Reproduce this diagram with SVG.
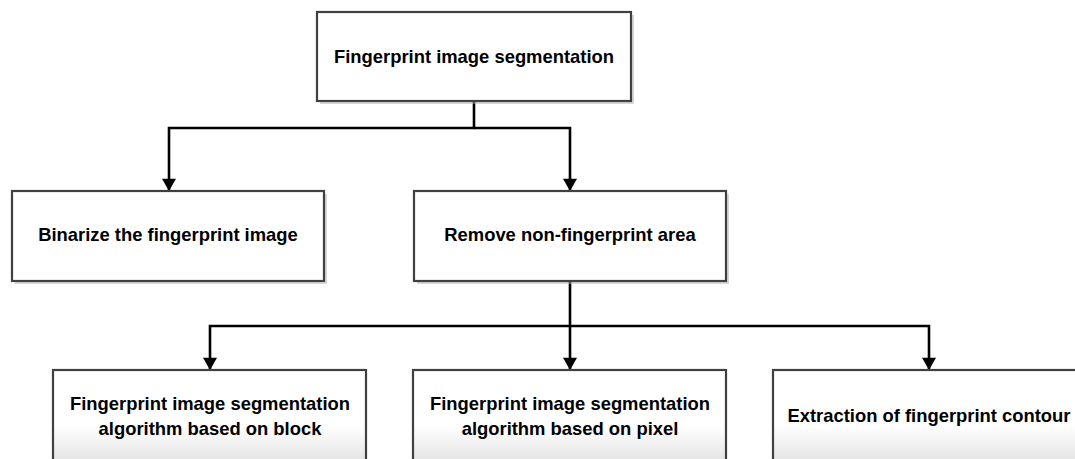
<svg xmlns="http://www.w3.org/2000/svg" width="1075" height="459" viewBox="0 0 1075 459">
<defs>
<style>
.box{fill:#ffffff;stroke:#404040;stroke-width:2.2}
.gbox{fill:url(#fade);stroke:#404040;stroke-width:2.2}
.shadow{fill:#b0b0b0;opacity:0.5}
.lbl{font-family:"Liberation Sans",Arial,sans-serif;font-weight:bold;font-size:18.4px;fill:#000;text-anchor:middle}
.conn{fill:none;stroke:#000;stroke-width:2.6}
</style>
<linearGradient id="fade" x1="0" y1="0" x2="0" y2="1">
<stop offset="0.6" stop-color="#ffffff"/>
<stop offset="1" stop-color="#e4e4e4"/>
</linearGradient>
<marker id="arr" markerUnits="userSpaceOnUse" markerWidth="16" markerHeight="14" refX="14" refY="8" orient="auto" viewBox="0 0 16 16">
<path d="M0,0 L14,8 L0,16 Z" fill="#000"/>
</marker>
</defs>
<g id="connectors">
<path class="conn" d="M474 101 V128 H169 V191" marker-end="url(#arr)"/>
<path class="conn" d="M474 128 H570 V191" marker-end="url(#arr)"/>
<path class="conn" d="M570 281 V326 H210 V370" marker-end="url(#arr)"/>
<path class="conn" d="M570 326 V370" marker-end="url(#arr)"/>
<path class="conn" d="M570 326 H929 V370" marker-end="url(#arr)"/>
</g>
<g id="node-top">
<rect class="shadow" x="320" y="15" width="314" height="89"/>
<rect class="box" x="317" y="12" width="314" height="89"/>
<text class="lbl" x="474" y="63">Fingerprint image segmentation</text>
</g>
<g id="node-binarize">
<rect class="shadow" x="15" y="194" width="312" height="90"/>
<rect class="box" x="12" y="191" width="312" height="90"/>
<text class="lbl" x="168" y="241">Binarize the fingerprint image</text>
</g>
<g id="node-remove">
<rect class="shadow" x="417" y="194" width="312" height="90"/>
<rect class="box" x="414" y="191" width="312" height="90"/>
<text class="lbl" x="570" y="241">Remove non-fingerprint area</text>
</g>
<g id="node-block">
<rect class="gbox" x="53" y="370" width="313" height="92"/>
<text class="lbl" x="210" y="410">Fingerprint image segmentation</text>
<text class="lbl" x="210" y="435">algorithm based on block</text>
</g>
<g id="node-pixel">
<rect class="gbox" x="413" y="370" width="313" height="92"/>
<text class="lbl" x="570" y="410">Fingerprint image segmentation</text>
<text class="lbl" x="570" y="435">algorithm based on pixel</text>
</g>
<g id="node-contour">
<rect class="gbox" x="773" y="370" width="313" height="92"/>
<text class="lbl" x="929" y="422">Extraction of fingerprint contour</text>
</g>
</svg>
